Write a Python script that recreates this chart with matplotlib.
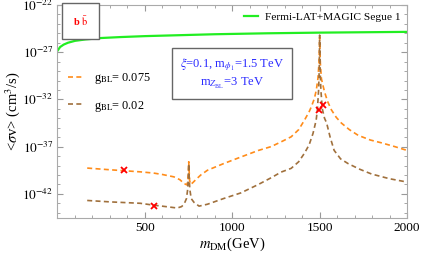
import matplotlib.pyplot as plt
import numpy as np

plt.rcParams["font.family"] = ["Liberation Serif", "DejaVu Serif"]
plt.rcParams["mathtext.fontset"] = "stix"

# log10 <sigma v>
fermi_m = [2, 15, 35, 60, 100, 160, 250, 360, 500, 700, 900, 1200, 1500, 2000]
fermi_L = [-26.8, -26.45, -26.2, -26.0, -25.8, -25.65, -25.5, -25.4, -25.3,
           -25.2, -25.1, -25.0, -24.93, -24.85]

g075_m = [170, 300, 380, 474, 550, 600, 666, 700, 724, 740, 746, 749, 751, 753,
          756, 762, 775, 791, 820, 858, 950, 1049, 1150, 1222, 1279, 1337, 1380,
          1413, 1440, 1452, 1470, 1481, 1490, 1496, 1500, 1504, 1510, 1520, 1528,
          1545, 1567, 1595, 1624, 1670, 1720, 1790, 1854, 1930, 2000]
g075_L = [-39.27, -39.45, -39.55, -39.67, -39.8, -39.95, -40.2, -40.5, -40.9,
          -41.05, -40.6, -39.5, -38.6, -39.5, -40.6, -41.0, -40.8, -40.5, -40.0,
          -39.5, -38.8, -38.1, -37.4, -37.0, -36.5, -35.96, -35.2, -34.2, -33.3,
          -32.8, -31.9, -31.0, -29.8, -28.2, -25.4, -28.2, -29.8, -30.6, -31.2,
          -32.2, -33.1, -33.9, -34.5, -35.2, -35.8, -36.3, -36.6, -37.0, -37.4]

g002_m = [170, 300, 474, 551, 620, 685, 710, 724, 738, 745, 749, 751, 753, 757,
          765, 781, 810, 858, 950, 1049, 1150, 1222, 1279, 1337, 1380, 1413, 1440,
          1462, 1480, 1487, 1494, 1498, 1500, 1502, 1507, 1515, 1528, 1540, 1560,
          1583, 1620, 1663, 1730, 1797, 1900, 2000]
g002_L = [-42.7, -42.85, -43.0, -43.2, -43.35, -43.5, -43.35, -43.1, -42.5,
          -41.5, -40.0, -38.8, -40.0, -41.5, -42.5, -42.9, -43.3, -43.1, -42.5,
          -41.9, -41.0, -40.3, -39.7, -39.3, -38.6, -37.7, -36.8, -35.6, -34.2,
          -33.1, -31.0, -28.5, -25.2, -28.5, -31.0, -33.0, -34.0, -34.5, -36.0,
          -37.4, -38.3, -38.8, -39.4, -39.9, -40.4, -40.75]

cross_m = [380, 551, 1496, 1519]
cross_L = [-39.5, -43.3, -33.1, -32.6]

yticks_exp = [-42, -37, -32, -27, -22]

fig = plt.figure(figsize=(4.24, 2.61), dpi=100)
ax = fig.add_axes([0.1356, 0.165, 0.8244, 0.816])

ax.plot(fermi_m, 10.0 ** np.array(fermi_L), color="#22ee22", lw=1.6,
        label="Fermi-LAT+MAGIC Segue 1")
l1, = ax.plot(g075_m, 10.0 ** np.array(g075_L), color="#ff8c1a", lw=1.2,
              dashes=(3, 2), label=r"g$_{\rm BL}$= 0.075")
l2, = ax.plot(g002_m, 10.0 ** np.array(g002_L), color="#a0703c", lw=1.2,
              dashes=(3, 2), label=r"g$_{\rm BL}$= 0.02")
ax.plot(cross_m, 10.0 ** np.array(cross_L), "x", color="red", ms=4.5, mew=1.3)

ax.set_yscale("log")
ax.set_xlim(0, 2000)
ax.set_ylim(10 ** -44.55, 1e-22)
ax.set_xticks([500, 1000, 1500, 2000])
ax.set_xticks(np.arange(100, 2000, 100), minor=True)
ax.set_yticks([10.0 ** e for e in yticks_exp])
ax.set_yticklabels([r"$10^{%d}$" % e for e in yticks_exp])
ax.set_yticks([10.0 ** e for e in range(-44, -22) if e not in yticks_exp],
              minor=True)
ax.yaxis.set_minor_formatter(plt.NullFormatter())
ax.tick_params(which="both", direction="in", top=True, right=True,
               color="#999999", labelsize=9.5, pad=3)
ax.tick_params(which="major", length=4)
ax.tick_params(which="minor", length=2)
for s in ax.spines.values():
    s.set_color("#aaaaaa")

ax.set_xlabel(r"$m_{\rm DM}$(GeV)", fontsize=10.5, labelpad=1)
ax.set_ylabel(r"<$\sigma$v> (cm$^3$/s)", fontsize=10.5, labelpad=0)

leg1 = ax.legend(handles=[ax.lines[0]], loc="upper right", frameon=False,
                 fontsize=8.2, handlelength=1.2, handletextpad=0.6,
                 borderaxespad=0.2)
ax.add_artist(leg1)
ax.legend(handles=[l1, l2], loc="upper left", bbox_to_anchor=(0.0, 0.74),
          frameon=False, fontsize=8.8, handlelength=1.2, handletextpad=0.9,
          labelspacing=1.0)

ax.text(0.067, 0.925, r"b $\bar{\rm b}$", transform=ax.transAxes, color="red",
        fontsize=7.5, fontweight="bold", ha="center", va="center",
        bbox=dict(boxstyle="square,pad=1.05", fc="white", ec="#666666", lw=1))
ax.text(0.5, 0.676, "$\\xi$=0.1, m$_{\\phi_1}$=1.5 TeV\nm$_{Z_{\\rm BL}}$=3 TeV",
        transform=ax.transAxes, color="#2a2aff", fontsize=9, ha="center",
        va="center", linespacing=1.3,
        bbox=dict(boxstyle="square,pad=0.65", fc="white", ec="#666666", lw=1))

fig.savefig("out.png", dpi=100)
